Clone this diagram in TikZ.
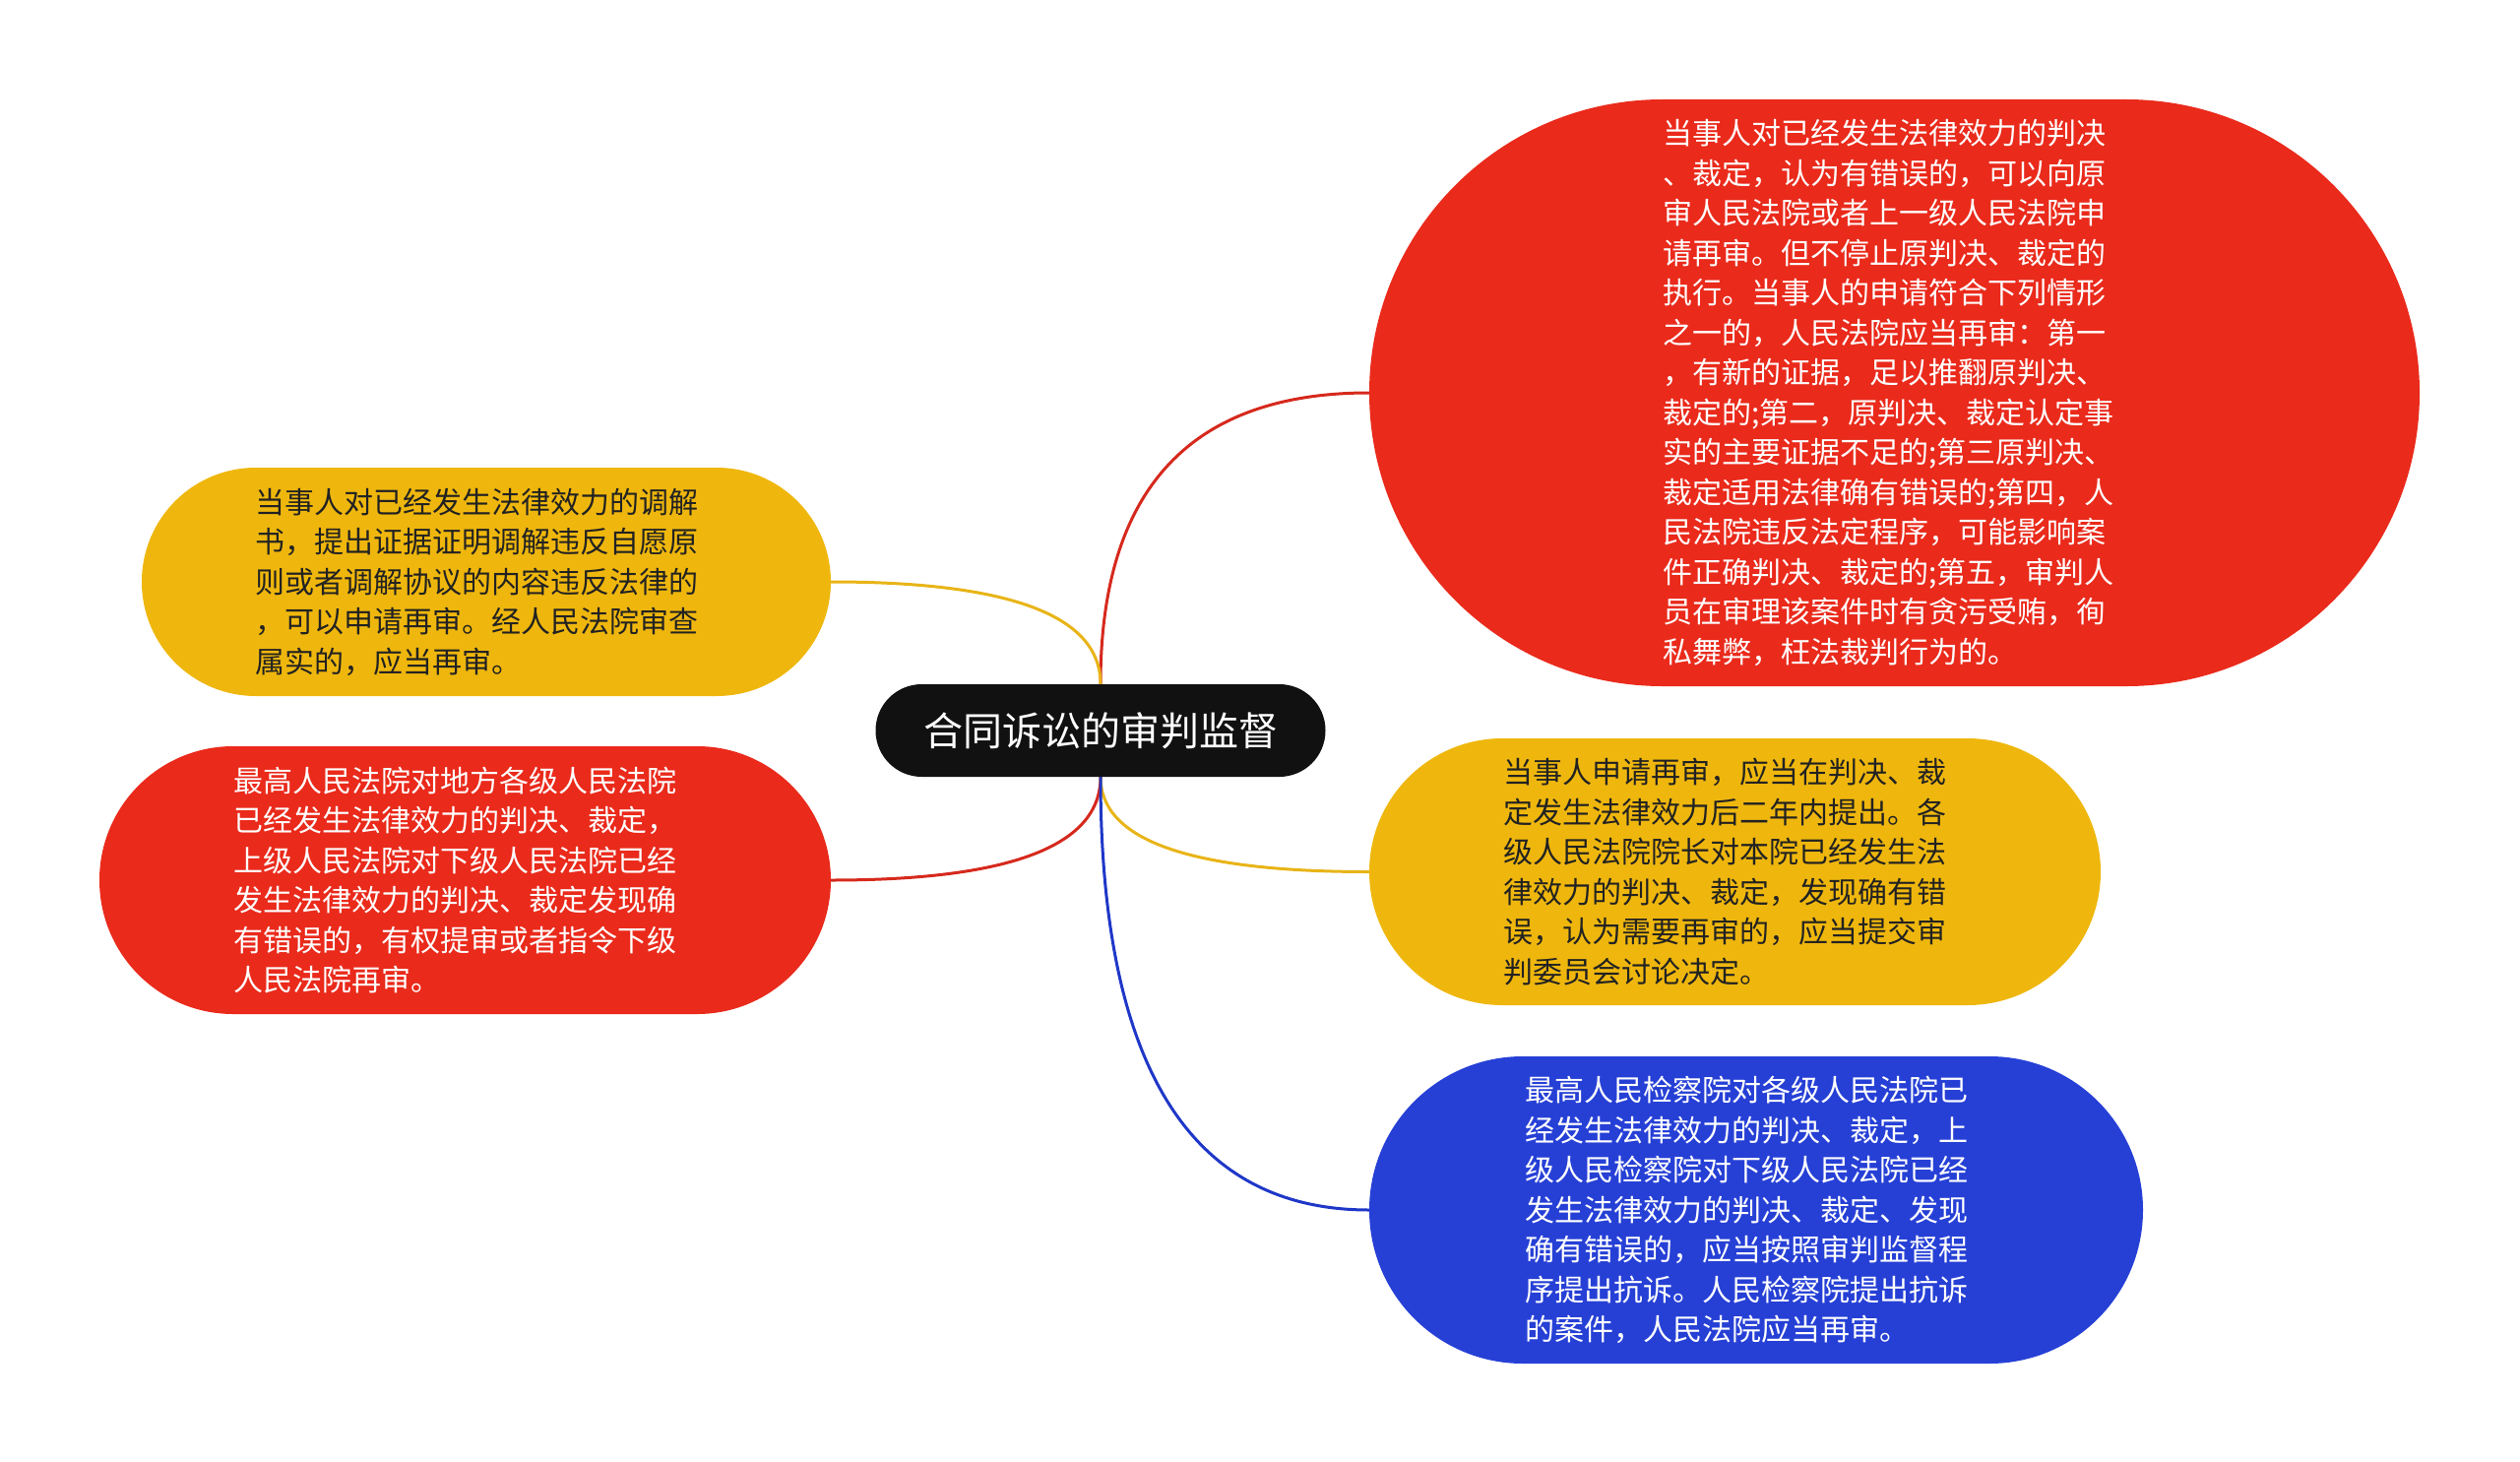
\documentclass[tikz,border=0pt]{standalone}
\usepackage{fontspec}
\setmainfont{Noto Sans CJK SC}
\usetikzlibrary{backgrounds,calc}
\definecolor{nred}{HTML}{EA2A1B}
\definecolor{nyel}{HTML}{EFB70D}
\definecolor{nblue}{HTML}{2640D6}
\definecolor{lred}{HTML}{D6291D}
\definecolor{lyel}{HTML}{E8B417}
\definecolor{lblue}{HTML}{1F37C8}
\definecolor{ndark}{HTML}{111111}
\definecolor{tdark}{HTML}{222222}
\begin{document}
\begin{tikzpicture}[x=1pt,y=-1pt,
  bubble/.style={inner sep=0pt, text width=470pt, align=left, font=\fontsize{30pt}{40.5pt}\selectfont},
  redbub/.style={bubble, fill=nred, text=white},
  yelbub/.style={bubble, fill=nyel, text=tdark},
  bluebub/.style={bubble, fill=nblue, text=white},
  link/.style={line width=3pt},
]
\useasboundingbox (0,0) rectangle (2560,1485);

\node[fill=ndark, text=white, inner sep=0pt, minimum width=457pt, minimum height=94pt,
      rounded corners=46.9pt, font=\fontsize{40pt}{48pt}\selectfont] (c) at (1118,742) {合同诉讼的审判监督};

\node[redbub, minimum width=1067pt, minimum height=596pt, rounded corners=297.9pt] (tr) at (1924.5,399)
{当事人对已经发生法律效力的判决\\、裁定，认为有错误的，可以向原\\审人民法院或者上一级人民法院申\\请再审。但不停止原判决、裁定的\\执行。当事人的申请符合下列情形\\之一的，人民法院应当再审：第一\\，有新的证据，足以推翻原判决、\\裁定的;第二，原判决、裁定认定事\\实的主要证据不足的;第三原判决、\\裁定适用法律确有错误的;第四，人\\民法院违反法定程序，可能影响案\\件正确判决、裁定的;第五，审判人\\员在审理该案件时有贪污受贿，徇\\私舞弊，枉法裁判行为的。};

\node[yelbub, minimum width=700pt, minimum height=232pt, rounded corners=115.9pt] (ly) at (494,591)
{当事人对已经发生法律效力的调解\\书，提出证据证明调解违反自愿原\\则或者调解协议的内容违反法律的\\，可以申请再审。经人民法院审查\\属实的，应当再审。};

\node[redbub, minimum width=743pt, minimum height=272pt, rounded corners=135.9pt] (lr) at (472.5,894)
{最高人民法院对地方各级人民法院\\已经发生法律效力的判决、裁定，\\上级人民法院对下级人民法院已经\\发生法律效力的判决、裁定发现确\\有错误的，有权提审或者指令下级\\人民法院再审。};

\node[yelbub, minimum width=743pt, minimum height=271pt, rounded corners=135.4pt] (ry) at (1762.5,885.5)
{当事人申请再审，应当在判决、裁\\定发生法律效力后二年内提出。各\\级人民法院院长对本院已经发生法\\律效力的判决、裁定，发现确有错\\误，认为需要再审的，应当提交审\\判委员会讨论决定。};

\node[bluebub, minimum width=786pt, minimum height=312pt, rounded corners=155.9pt] (rb) at (1784,1229)
{最高人民检察院对各级人民法院已\\经发生法律效力的判决、裁定，上\\级人民检察院对下级人民法院已经\\发生法律效力的判决、裁定、发现\\确有错误的，应当按照审判监督程\\序提出抗诉。人民检察院提出抗诉\\的案件，人民法院应当再审。};

\begin{scope}[on background layer]
\draw[link, lred] (c.north) .. controls ($(c.north)!0.667!(c.north |- tr.west)$) and ($(tr.west)!0.667!(c.north |- tr.west)$) .. (tr.west);
\draw[link, lyel] (c.north) .. controls ($(c.north)!0.667!(c.north |- ly.east)$) and ($(ly.east)!0.667!(c.north |- ly.east)$) .. (ly.east);
\draw[link, lred] (c.south) .. controls ($(c.south)!0.667!(c.south |- lr.east)$) and ($(lr.east)!0.667!(c.south |- lr.east)$) .. (lr.east);
\draw[link, lyel] (c.south) .. controls ($(c.south)!0.667!(c.south |- ry.west)$) and ($(ry.west)!0.667!(c.south |- ry.west)$) .. (ry.west);
\draw[link, lblue] (c.south) .. controls ($(c.south)!0.667!(c.south |- rb.west)$) and ($(rb.west)!0.667!(c.south |- rb.west)$) .. (rb.west);
\end{scope}
\end{tikzpicture}
\end{document}
